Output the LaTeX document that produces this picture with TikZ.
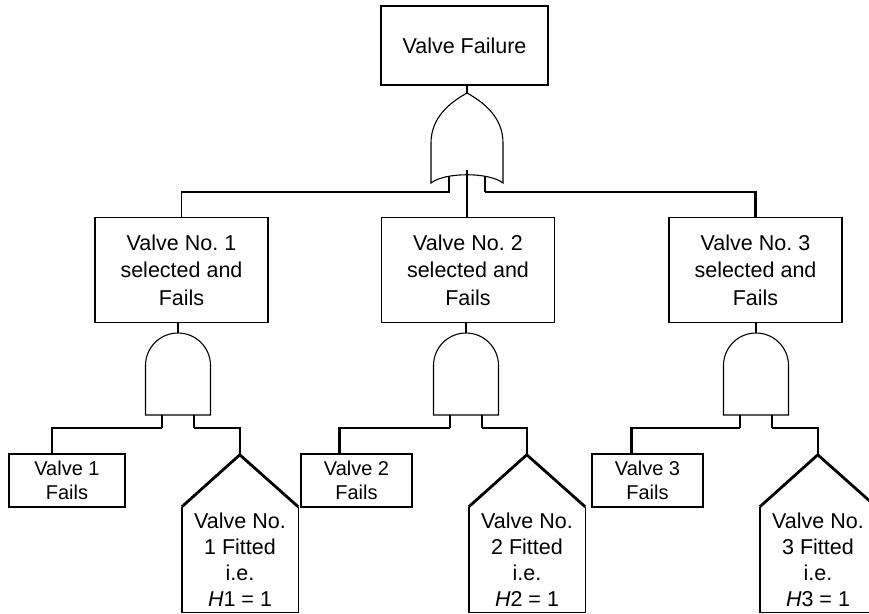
\documentclass[tikz,border=0pt]{standalone}
\usepackage{fontspec}
\setmainfont{Liberation Sans}
\frenchspacing
\begin{document}
\begin{tikzpicture}[
        x=1pt, y=-1pt,
        line join=miter,
        box/.style={draw, line width=1.2pt, align=center, inner sep=0pt},
        topbox/.style={box, font=\fontsize{21.5}{22}\selectfont, minimum width=167pt, minimum height=79pt},
        selbox/.style={box, font=\fontsize{21.5}{27.5}\selectfont, minimum width=173pt, minimum height=105pt},
        failbox/.style={box, font=\fontsize{20}{24}\selectfont, minimum height=53pt},
        house/.style={align=center, inner sep=0pt, font=\fontsize{21.5}{26}\selectfont, minimum width=116pt, minimum height=105pt},
        gate/.style={line width=1.1pt},
        wire/.style={line width=1.1pt},
        thickwire/.style={line width=2.6pt},
        roof/.style={line width=2.8pt},
        wall/.style={line width=1.4pt}
    ]
        \useasboundingbox (0,0) rectangle (869,613);

        % Events
        \node[topbox] (top) at (464.5,45.5) {Valve Failure};

        \node[selbox] (sel1) at (181.5,270) {Valve No. 1\\selected and\\Fails};
        \node[selbox] (sel2) at (468,270) {Valve No. 2\\selected and\\Fails};
        \node[selbox] (sel3) at (755.5,270) {Valve No. 3\\selected and\\Fails};

        \node[failbox, minimum width=116pt] (fail1) at (67,480.5) {Valve 1\\Fails};
        \node[failbox, minimum width=111pt] (fail2) at (356.5,480.5) {Valve 2\\Fails};
        \node[failbox, minimum width=111pt] (fail3) at (647.5,480.5) {Valve 3\\Fails};

        \node[house] (fit1) at (240,559.5) {Valve No.\\1 Fitted\\i.e.\\\textit{H}1 = 1};
        \node[house] (fit2) at (527,559.5) {Valve No.\\2 Fitted\\i.e.\\\textit{H}2 = 1};
        \node[house] (fit3) at (818,559.5) {Valve No.\\3 Fitted\\i.e.\\\textit{H}3 = 1};

        % House events
        \draw[wall] (fit1.north west) -- (fit1.south west) -- (fit1.south east) -- (fit1.north east);
        \draw[roof] (fit1.north west) -- ++(58,-52) coordinate (apex1) -- (fit1.north east);
        \draw[wall] (fit2.north west) -- (fit2.south west) -- (fit2.south east) -- (fit2.north east);
        \draw[roof] (fit2.north west) -- ++(58,-52) coordinate (apex2) -- (fit2.north east);
        \draw[wall] (fit3.north west) -- (fit3.south west) -- (fit3.south east) -- (fit3.north east);
        \draw[roof] (fit3.north west) -- ++(58,-52) coordinate (apex3) -- (fit3.north east);

        % OR gate
        \draw[gate] (431,183) -- (431,143) .. controls (431,118) and (449,103) .. (467,93)
            .. controls (485,103) and (503,118) .. (503,143) -- (503,183)
            .. controls (489,172) and (445,172) .. cycle;
        \coordinate (orout) at (467,93);
        \coordinate (orin1) at (449,176.5);
        \coordinate (orin2) at (467,170);
        \coordinate (orin3) at (485,176.5);
        \coordinate (orl) at (449,192);
        \coordinate (orr) at (485,192);

        % AND gates
        \draw[gate] (145.5,415) -- (145.5,365.5) arc[start angle=180, end angle=360, radius=32.5] -- (210.5,415) -- cycle;
        \draw[gate] (433.5,415) -- (433.5,365.5) arc[start angle=180, end angle=360, radius=32.5] -- (498.5,415) -- cycle;
        \draw[gate] (723.5,415) -- (723.5,365.5) arc[start angle=180, end angle=360, radius=32.5] -- (788.5,415) -- cycle;
        \coordinate (and1out) at (178,333);
        \coordinate (and2out) at (466,333);
        \coordinate (and3out) at (756,333);
        \coordinate (and1a) at (162,415);
        \coordinate (and1b) at (194,415);
        \coordinate (and2a) at (450,415);
        \coordinate (and2b) at (482,415);
        \coordinate (and3a) at (740,415);
        \coordinate (and3b) at (772,415);
        \coordinate (and1l) at (162,428);
        \coordinate (and1r) at (194,428);
        \coordinate (and2l) at (450,428);
        \coordinate (and2r) at (482,428);
        \coordinate (and3l) at (740,428);
        \coordinate (and3r) at (772,428);

        % Connectors, top level
        \draw[wire] (top.south -| orout) -- (orout);
        \draw[wire] (orin1) -- (orl) -| (sel1.north);
        \draw[thickwire] (orin2) -- (sel2.north -| orin2);
        \draw[wire] (orin3) -- (orr);
        \draw[thickwire] (orr) -| (sel3.north);

        % Connectors, branches
        \draw[wire] (sel1.south -| and1out) -- (and1out);
        \draw[wire] (sel2.south -| and2out) -- (and2out);
        \draw[wire] (sel3.south -| and3out) -- (and3out);

        \draw[wire] (and1a) -- (and1l);
        \draw[thickwire] (and1l) -| ([xshift=-15pt]fail1.north);
        \draw[wire] (and1b) -- (and1r);
        \draw[thickwire] (and1r) -| (apex1);

        \draw[wire] (and2a) -- (and2l);
        \draw[thickwire] (and2l) -| ([xshift=-17pt]fail2.north);
        \draw[wire] (and2b) -- (and2r);
        \draw[thickwire] (and2r) -| (apex2);

        \draw[wire] (and3a) -- (and3l);
        \draw[thickwire] (and3l) -| ([xshift=-16pt]fail3.north);
        \draw[wire] (and3b) -- (and3r);
        \draw[thickwire] (and3r) -| (apex3);

    \end{tikzpicture}
\end{document}
